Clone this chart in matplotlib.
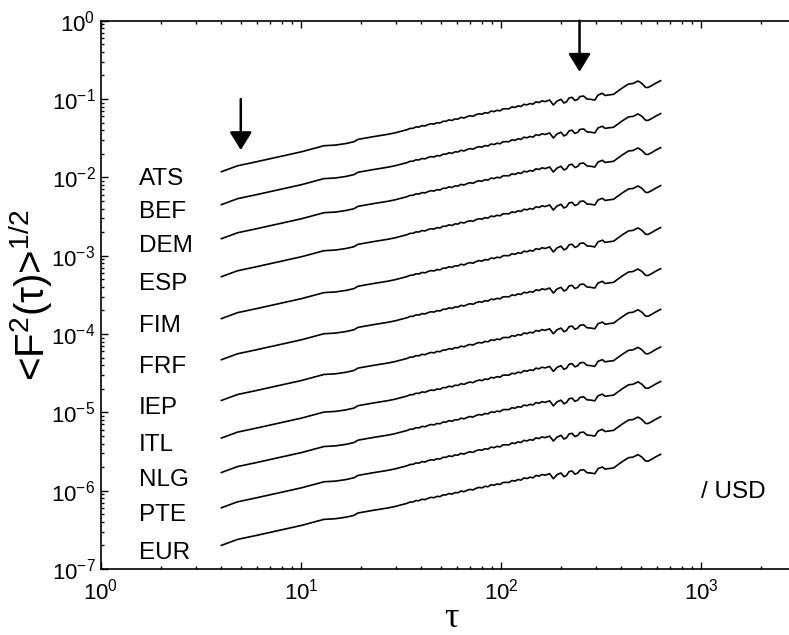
import numpy as np
import matplotlib
matplotlib.use("Agg")
import matplotlib.pyplot as plt

plt.rcParams['font.family'] = ['Liberation Sans', 'DejaVu Sans']
plt.rcParams['mathtext.fontset'] = 'custom'
plt.rcParams['mathtext.rm'] = 'Liberation Sans'
plt.rcParams['mathtext.it'] = 'Liberation Sans:italic'
plt.rcParams['mathtext.sf'] = 'Liberation Sans'

# currencies (each vs USD), top to bottom
currencies = ['ATS', 'BEF', 'DEM', 'ESP', 'FIM', 'FRF', 'IEP', 'ITL', 'NLG', 'PTE', 'EUR']
# vertical shift of each curve (decades) relative to the ATS curve
shift_dec = [0.0, -0.42, -0.855, -1.34, -1.875, -2.40, -2.92, -3.40, -3.84, -4.29, -4.77]

# ATS curve: log10(tau), log10(<F^2>^1/2)
log_tau = [0.602, 0.683, 0.777, 0.890, 1.003, 1.115, 1.172, 1.225, 1.265, 1.285,
           1.360, 1.435, 1.470, 1.495,
           1.530, 1.545, 1.560, 1.575, 1.590, 1.605, 1.620, 1.635, 1.650, 1.665,
           1.680, 1.695, 1.710, 1.725, 1.740, 1.755, 1.770, 1.785, 1.800, 1.815,
           1.830, 1.845, 1.860, 1.875, 1.890, 1.905, 1.920, 1.935, 1.950, 1.965,
           1.980, 1.995, 2.010, 2.025, 2.040, 2.055, 2.070, 2.085, 2.100, 2.115,
           2.130, 2.145, 2.160, 2.175, 2.190, 2.205, 2.220,
           2.243, 2.262, 2.280, 2.300, 2.315, 2.328, 2.340, 2.355, 2.370, 2.384,
           2.395, 2.413, 2.430, 2.450, 2.469, 2.485, 2.507, 2.520, 2.535, 2.563,
           2.585, 2.610, 2.638, 2.660, 2.685, 2.704, 2.723, 2.735, 2.750, 2.775,
           2.798]
log_F = [-1.928, -1.852, -1.801, -1.737, -1.673, -1.596, -1.588, -1.568, -1.545, -1.515,
         -1.481, -1.450, -1.432, -1.415,
         -1.392, -1.375, -1.374, -1.356, -1.358, -1.339, -1.344, -1.327, -1.315, -1.320,
         -1.302, -1.306, -1.284, -1.284, -1.266, -1.274, -1.254, -1.256, -1.234, -1.243,
         -1.225, -1.213, -1.221, -1.200, -1.188, -1.194, -1.174, -1.180, -1.154, -1.161,
         -1.144, -1.151, -1.125, -1.124, -1.125, -1.100, -1.108, -1.087, -1.095, -1.067,
         -1.075, -1.057, -1.066, -1.035, -1.045, -1.023, -1.033,
         -1.013, -1.077, -1.026, -1.004, -1.051, -1.034, -0.987, -0.978, -1.019, -1.004,
         -0.968, -0.962, -1.000, -1.004, -1.013, -0.949, -0.927, -0.955, -0.949, -0.940,
         -0.898, -0.853, -0.808, -0.802, -0.770, -0.800, -0.851, -0.853, -0.834, -0.796,
         -0.766]

# arrows: (tau, top value, tip value)
arrows = [(5.0, 0.1, 0.0223), (247.0, 1.0, 0.223)]

tau = 10 ** np.array(log_tau)
base = 10 ** np.array(log_F)

fig = plt.figure(figsize=(7.89, 6.35), dpi=100)
ax = fig.add_axes([0.128, 0.1039, 0.8872, 0.8635])

for name, s in zip(currencies, shift_dec):
    y = base * 10 ** s
    ax.plot(tau, y, color='black', lw=1.2)
    ax.text(1.55, y[0] * 0.81, name, fontsize=17.5, va='center', ha='left')

for xa, y0, y1 in arrows:
    ax.annotate('', xy=(xa, y1), xytext=(xa, y0),
                arrowprops=dict(arrowstyle='-|>,head_length=0.55,head_width=0.34',
                                mutation_scale=20, color='black', lw=1.8,
                                shrinkA=0, shrinkB=0))

ax.text(1000, 9.7e-7, '/ USD', fontsize=17.5, va='center', ha='left')

ax.set_xscale('log')
ax.set_yscale('log')
ax.set_xlim(1, 10 ** 3.5)
ax.set_ylim(1e-7, 1)
ax.set_yticks([10.0 ** k for k in range(-7, 1)])
ax.set_xticks([10.0 ** k for k in range(0, 4)])

ax.tick_params(which='both', direction='in', top=True, right=True, width=1)
ax.tick_params(which='major', length=5, labelsize=16)
ax.tick_params(which='minor', length=2.5)
ax.tick_params(axis='x', pad=7)
ax.tick_params(axis='y', pad=4)
for sp in ax.spines.values():
    sp.set_linewidth(1.2)

ax.set_xlabel('τ', fontsize=26, family=['Liberation Serif', 'DejaVu Serif'], labelpad=-2)
ax.set_ylabel('<F$^2$(τ)>$^{1/2}$', fontsize=29, labelpad=-3)

fig.savefig('out.png', dpi=100)
